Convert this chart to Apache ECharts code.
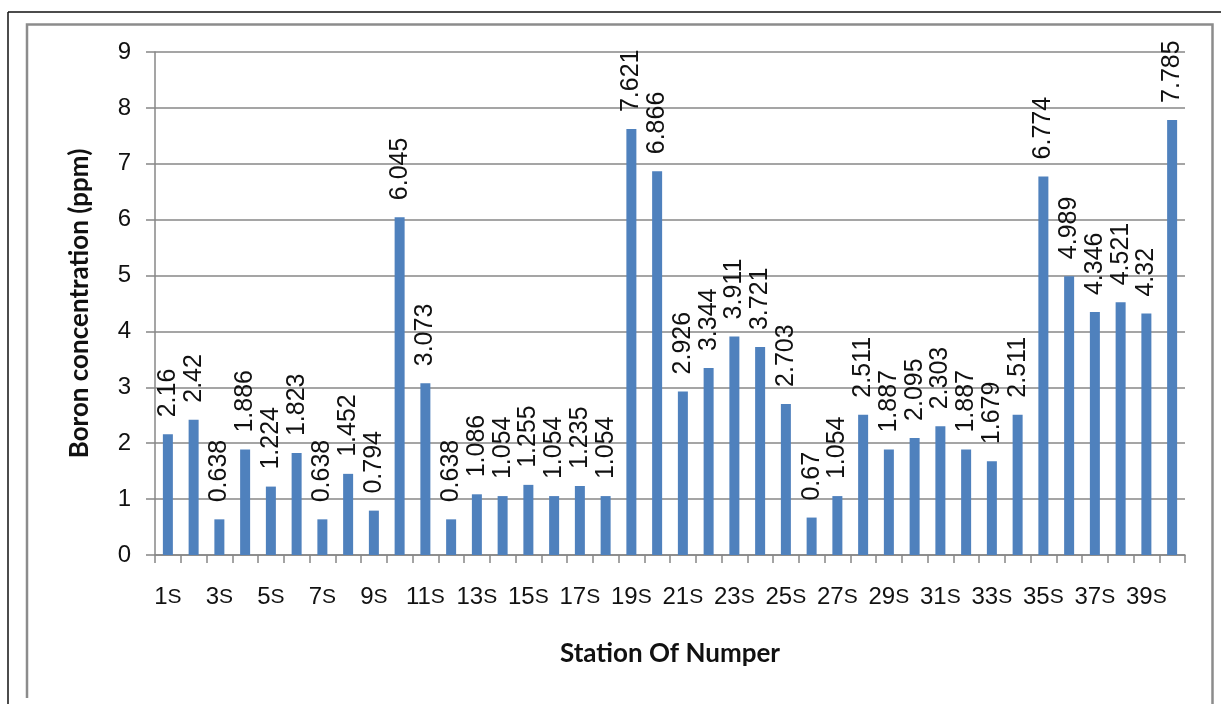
<!DOCTYPE html>
<html>
<head>
<meta charset="utf-8">
<script src="https://cdn.jsdelivr.net/npm/echarts@6/dist/echarts.min.js"></script>
<style>
  html, body { margin: 0; padding: 0; background: #fff; }
  #chart { width: 1221px; height: 704px; }
</style>
</head>
<body>
<div id="chart"></div>
<script>
// Station names along the x axis
const stations = ['1S','2S','3S','4S','5S','6S','7S','8S','9S','10S',
  '11S','12S','13S','14S','15S','16S','17S','18S','19S','20S',
  '21S','22S','23S','24S','25S','26S','27S','28S','29S','30S',
  '31S','32S','33S','34S','35S','36S','37S','38S','39S','40S'];

// Boron concentration measured at each station (ppm)
const boron = [2.16, 2.42, 0.638, 1.886, 1.224, 1.823, 0.638, 1.452, 0.794, 6.045,
  3.073, 0.638, 1.086, 1.054, 1.255, 1.054, 1.235, 1.054, 7.621, 6.866,
  2.926, 3.344, 3.911, 3.721, 2.703, 0.67, 1.054, 2.511, 1.887, 2.095,
  2.303, 1.887, 1.679, 2.511, 6.774, 4.989, 4.346, 4.521, 4.32, 7.785];

const yTitle = 'Boron concentration (ppm)';
const xTitle = 'Station Of Numper';

const chart = echarts.init(document.getElementById('chart'));
const gridColor = '#878787';
const labelFont = 'Liberation Sans, Arial, sans-serif';
const titleFont = 'Lato, Open Sans, sans-serif';

chart.setOption({
  animation: false,
  backgroundColor: '#fff',
  graphic: [
    // outer frame (top and left edges)
    { type: 'line', shape: { x1: 8, y1: 12, x2: 1221, y2: 12 }, style: { stroke: '#111', lineWidth: 1.5 } },
    { type: 'line', shape: { x1: 8, y1: 12, x2: 8, y2: 704 }, style: { stroke: '#111', lineWidth: 1.5 } },
    // inner chart-area frame
    { type: 'polyline', shape: { points: [[27, 698], [27, 24.5], [1212.5, 24.5], [1212.5, 704]] },
      style: { stroke: '#8c8c8c', lineWidth: 2.5, fill: null } }
  ],
  grid: { left: 155, right: 36, top: 52, bottom: 149 },
  xAxis: {
    type: 'category',
    data: stations,
    name: xTitle,
    nameLocation: 'middle',
    nameGap: 86,
    nameTextStyle: { fontFamily: titleFont, fontWeight: 'bold', fontSize: 26, color: '#111' },
    axisLine: { lineStyle: { color: gridColor, width: 1.5 } },
    axisTick: { show: true, length: 8, alignWithLabel: false, interval: 0, lineStyle: { color: gridColor, width: 1.5 } },
    axisLabel: {
      interval: 1,
      margin: 30,
      formatter: function (v) {
        const n = v.replace('S', '');
        return '{n|' + n + '}{s|S}';
      },
      rich: {
        n: { fontFamily: labelFont, fontSize: 24, color: '#111' },
        s: { fontFamily: labelFont, fontSize: 21, color: '#111' }
      }
    },
    splitLine: { show: false }
  },
  yAxis: {
    type: 'value',
    min: 0, max: 9, interval: 1,
    name: yTitle,
    nameLocation: 'middle',
    nameGap: 62,
    nameTextStyle: { fontFamily: titleFont, fontWeight: 'bold', fontSize: 26, color: '#111' },
    axisLine: { show: true, lineStyle: { color: gridColor, width: 1.5 } },
    axisTick: { show: true, length: 9, lineStyle: { color: gridColor, width: 1.5 } },
    axisLabel: { margin: 24, fontFamily: labelFont, fontSize: 24, color: '#111' },
    splitLine: { show: true, lineStyle: { color: gridColor, width: 1.5 } }
  },
  series: [{
    type: 'bar',
    data: boron,
    barWidth: 10,
    itemStyle: { color: '#4F81BD' },
    label: {
      show: true,
      position: 'top',
      rotate: 90,
      align: 'left',
      verticalAlign: 'middle',
      distance: 17,
      fontFamily: labelFont,
      fontSize: 25,
      color: '#111',
      formatter: function (p) { return String(p.value); }
    }
  }]
});
</script>
</body>
</html>
